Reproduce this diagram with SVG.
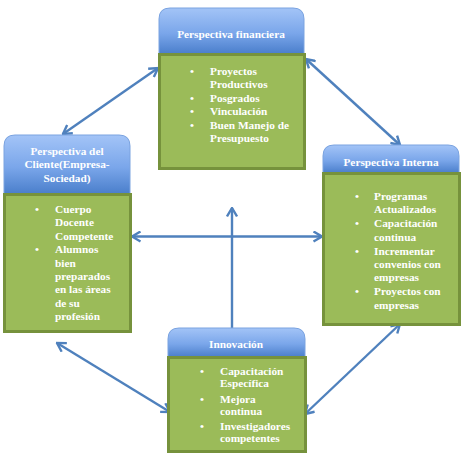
<svg xmlns="http://www.w3.org/2000/svg" width="465" height="457" viewBox="0 0 465 457">
<defs>
<linearGradient id="hg" x1="0" y1="0" x2="0" y2="1">
<stop offset="0" stop-color="#a3c4f7"/>
<stop offset="0.55" stop-color="#7aa6ea"/>
<stop offset="1" stop-color="#4a7ecb"/>
</linearGradient>
<marker id="ah" viewBox="0 0 10 10" refX="9" refY="5" markerWidth="5" markerHeight="5" orient="auto-start-reverse" markerUnits="userSpaceOnUse">
<path d="M1,1 L9,5 L1,9" fill="none" stroke="#4f81bd" stroke-width="2"/>
</marker>
<marker id="ah2" viewBox="0 0 12 12" refX="10.5" refY="6" markerWidth="12" markerHeight="12" orient="auto-start-reverse" markerUnits="userSpaceOnUse">
<path d="M2,1 L10.5,6 L2,11" fill="none" stroke="#4f81bd" stroke-width="2.4" stroke-linejoin="miter"/>
</marker>
</defs>
<style>
.hd{fill:url(#hg);stroke:#7aa3e0;stroke-width:1}
.bx{fill:#9bbb59;stroke:#76923c;stroke-width:3}
.t{font-family:"Liberation Serif","DejaVu Serif",serif;font-weight:bold;font-size:11.3px;fill:#ffffff}
.h{font-family:"Liberation Serif","DejaVu Serif",serif;font-weight:bold;font-size:11.3px;fill:#ffffff;text-anchor:middle}
.c{fill:none;stroke:#4f81bd;stroke-width:2.4}
</style>
<rect width="465" height="457" fill="#ffffff"/>
<g id="connectors">
<line class="c" x1="158" y1="68" x2="63" y2="134" marker-start="url(#ah2)" marker-end="url(#ah2)"/>
<line class="c" x1="306" y1="59" x2="400" y2="145" marker-start="url(#ah2)" marker-end="url(#ah2)"/>
<line class="c" x1="57" y1="343" x2="170" y2="412" marker-start="url(#ah2)" marker-end="url(#ah2)"/>
<line class="c" x1="400" y1="324" x2="305" y2="414" marker-start="url(#ah2)" marker-end="url(#ah2)"/>
<line class="c" x1="132" y1="236.5" x2="322" y2="236.5" marker-start="url(#ah2)" marker-end="url(#ah2)"/>
<line class="c" x1="232" y1="330" x2="232" y2="208" marker-end="url(#ah2)"/>
</g>
<g id="financiera">
<path class="hd" d="M159,54 V19 Q159,8 170,8 H293 Q304,8 304,19 V54 Z"/>
<text class="h" x="231" y="38">Perspectiva financiera</text>
<rect class="bx" x="159.5" y="54.5" width="145" height="114"/>
<g class="t">
<text x="190" y="75">•</text><text x="210" y="75">Proyectos</text>
<text x="210" y="88">Productivos</text>
<text x="190" y="102">•</text><text x="210" y="102">Posgrados</text>
<text x="190" y="115">•</text><text x="210" y="115">Vinculación</text>
<text x="190" y="129">•</text><text x="210" y="129">Buen Manejo de</text>
<text x="210" y="142">Presupuesto</text>
</g>
</g>
<g id="cliente">
<path class="hd" d="M4,194 V146 Q4,135 15,135 H119 Q130,135 130,146 V194 Z"/>
<text class="h" x="67" y="155">Perspectiva del</text>
<text class="h" x="67" y="168">Cliente(Empresa-</text>
<text class="h" x="67" y="182">Sociedad)</text>
<rect class="bx" x="4.5" y="194.5" width="126" height="137"/>
<g class="t">
<text x="35" y="213">•</text><text x="55" y="213">Cuerpo</text>
<text x="55" y="226">Docente</text>
<text x="55" y="240">Competente</text>
<text x="35" y="253">•</text><text x="55" y="253">Alumnos</text>
<text x="55" y="267">bien</text>
<text x="55" y="280">preparados</text>
<text x="55" y="293">en las áreas</text>
<text x="55" y="307">de su</text>
<text x="55" y="320">profesión</text>
</g>
</g>
<g id="interna">
<path class="hd" d="M323,173 V156 Q323,145 334,145 H448 Q459,145 459,156 V173 Z"/>
<text class="h" x="391" y="166">Perspectiva Interna</text>
<rect class="bx" x="323.5" y="173.5" width="136" height="151"/>
<g class="t">
<text x="355" y="200">•</text><text x="374" y="200">Programas</text>
<text x="374" y="213">Actualizados</text>
<text x="355" y="227">•</text><text x="374" y="227">Capacitación</text>
<text x="374" y="241">continua</text>
<text x="355" y="255">•</text><text x="374" y="255">Incrementar</text>
<text x="374" y="268">convenios con</text>
<text x="374" y="281">empresas</text>
<text x="355" y="295">•</text><text x="374" y="295">Proyectos con</text>
<text x="374" y="309">empresas</text>
</g>
</g>
<g id="innovacion">
<path class="hd" d="M168,357 V339 Q168,328 179,328 H294 Q305,328 305,339 V357 Z"/>
<text class="h" x="236" y="348">Innovación</text>
<rect class="bx" x="168.5" y="357.5" width="137" height="94"/>
<g class="t">
<text x="200" y="375">•</text><text x="220" y="375">Capacitación</text>
<text x="220" y="387">Específica</text>
<text x="200" y="403">•</text><text x="220" y="403">Mejora</text>
<text x="220" y="415">continua</text>
<text x="200" y="430">•</text><text x="220" y="430">Investigadores</text>
<text x="220" y="442">competentes</text>
</g>
</g>
</svg>
